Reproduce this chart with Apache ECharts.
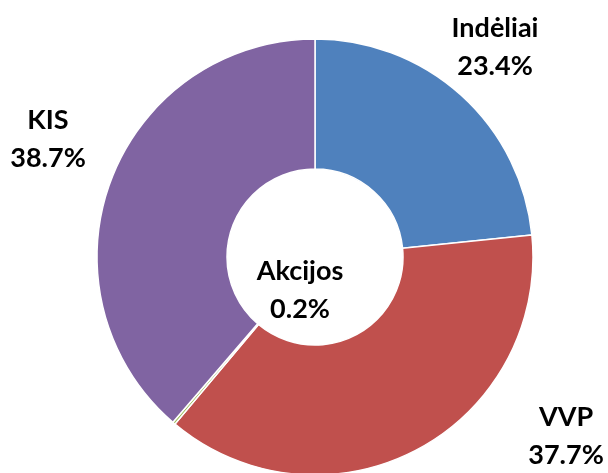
<!DOCTYPE html>
<html>
<head>
<meta charset="utf-8">
<script src="https://cdn.jsdelivr.net/npm/echarts@6/dist/echarts.min.js"></script>
<style>
  html, body { margin: 0; padding: 0; background: #fff; }
  #chart { width: 608px; height: 473px; }
</style>
</head>
<body>
<div id="chart"></div>
<script>
const categories = ['Indėliai', 'VVP', 'Akcijos', 'KIS'];
const shares = [23.4, 37.7, 0.2, 38.7];
const colors = ['#4F81BD', '#C0504D', '#9BBB59', '#8064A2'];

// where each label block sits (centre of the two lines)
const labelSpots = {
  'Indėliai': [495, 47],
  'VVP': [566, 436],
  'Akcijos': [300, 290],
  'KIS': [48, 139]
};

const chart = echarts.init(document.getElementById('chart'));

const option = {
  animation: false,
  series: [{
    type: 'pie',
    center: [315, 257],
    radius: [88, 218],
    startAngle: 90,
    clockwise: true,
    avoidLabelOverlap: false,
    silent: true,
    itemStyle: {
      borderColor: '#ffffff',
      borderWidth: 1.5
    },
    label: {
      show: true,
      position: 'outside',
      formatter: function (p) {
        return p.name + '\n' + p.value.toFixed(1) + '%';
      },
      color: '#000',
      fontFamily: 'Lato',
      fontWeight: 'bold',
      fontSize: 27,
      lineHeight: 38
    },
    labelLine: { show: false },
    labelLayout: function (params) {
      const name = categories[params.dataIndex];
      const spot = labelSpots[name];
      return {
        x: spot[0],
        y: spot[1],
        align: 'center',
        verticalAlign: 'middle'
      };
    },
    data: categories.map(function (name, i) {
      return { name: name, value: shares[i], itemStyle: { color: colors[i] } };
    })
  }]
};

chart.setOption(option);
</script>
</body>
</html>
